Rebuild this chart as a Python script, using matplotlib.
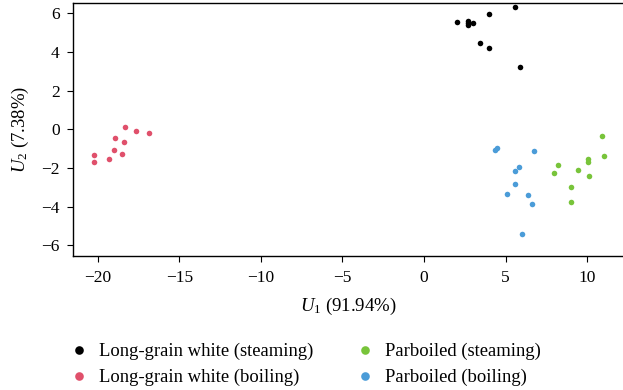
import matplotlib
matplotlib.use('Agg')
import matplotlib.pyplot as plt

# scores on the first two components
lgw_steam_u1 = [2.02, 2.70, 2.70, 2.70, 3.03, 3.98, 5.58, 3.43, 3.98, 5.86]
lgw_steam_u2 = [5.57, 5.62, 5.51, 5.41, 5.51, 5.98, 6.31, 4.45, 4.19, 3.21]

lgw_boil_u1 = [-18.36, -17.67, -16.85, -18.93, -18.42, -19.03, -18.52, -19.30, -20.22, -20.24]
lgw_boil_u2 = [0.12, -0.07, -0.21, -0.47, -0.64, -1.07, -1.29, -1.54, -1.31, -1.71]

pb_steam_u1 = [10.89, 11.01, 10.05, 10.05, 8.21, 7.97, 9.44, 10.13, 9.01, 9.01]
pb_steam_u2 = [-0.36, -1.38, -1.54, -1.68, -1.86, -2.28, -2.11, -2.42, -3.00, -3.76]

pb_boil_u1 = [4.35, 4.50, 6.72, 5.80, 5.60, 5.60, 5.11, 6.40, 6.62, 6.00]
pb_boil_u2 = [-1.07, -0.97, -1.11, -1.97, -2.17, -2.81, -3.35, -3.40, -3.88, -5.43]

labels = ['Long-grain white (steaming)', 'Long-grain white (boiling)',
          'Parboiled (steaming)', 'Parboiled (boiling)']
colors = ['#000000', '#E0506B', '#78C43A', '#4B9CD8']

x_ticks = [-20, -15, -10, -5, 0, 5, 10]
y_ticks = [-6, -4, -2, 0, 2, 4, 6]

plt.rcParams['font.family'] = 'Liberation Serif'
plt.rcParams['mathtext.fontset'] = 'custom'
plt.rcParams['mathtext.rm'] = 'Liberation Serif'
plt.rcParams['mathtext.it'] = 'Liberation Serif:italic'

fig = plt.figure(figsize=(6.23, 3.90), dpi=100)
ax = fig.add_axes([0.1177, 0.3436, 0.8839, 0.6495])

groups = [(lgw_steam_u1, lgw_steam_u2), (lgw_boil_u1, lgw_boil_u2),
          (pb_steam_u1, pb_steam_u2), (pb_boil_u1, pb_boil_u2)]
handles = []
for (u1, u2), lab, col in zip(groups, labels, colors):
    h, = ax.plot(u1, u2, 'o', ms=4.0, color=col, mec='none', label=lab)
    handles.append(h)

ax.set_xlim(-21.5, 12.26)
ax.set_ylim(-6.55, 6.55)
ax.set_xticks(x_ticks)
ax.set_yticks(y_ticks)
ax.set_xticklabels(['\u2212' + str(-t) if t < 0 else str(t) for t in x_ticks])
ax.set_yticklabels(['\u2212' + str(-t) if t < 0 else str(t) for t in y_ticks])
ax.tick_params(direction='out', length=4.3, width=0.8, labelsize=12.5, color='black')
ax.tick_params(axis='y', pad=5.5)
ax.tick_params(axis='x', pad=6)
for s in ax.spines.values():
    s.set_linewidth(1.0)

ax.set_xlabel(r'$U_1$ (91.94%)', fontsize=13.5, labelpad=7)
ax.set_ylabel(r'$U_2$ (7.38%)', fontsize=13.5, labelpad=7)

fig.legend(handles=handles, labels=labels, ncol=2, frameon=False,
           loc='upper left', bbox_to_anchor=(0.1154, 0.121),
           fontsize=13.4, handlelength=0.8, handletextpad=0.67,
           columnspacing=2.37, borderpad=0, borderaxespad=0,
           labelspacing=0.47, markerscale=1.55)

fig.savefig('out.png', dpi=100)
